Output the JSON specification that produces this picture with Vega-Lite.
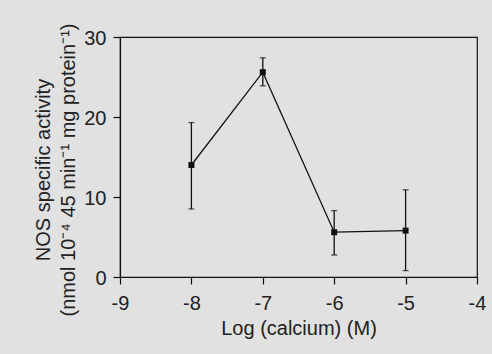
{
  "$schema": "https://vega.github.io/schema/vega-lite/v6.json",
  "width": 357,
  "height": 240,
  "autosize": "none",
  "padding": {"left": 120, "top": 37, "right": 15, "bottom": 77},
  "background": "#e1e1e1",
  "title": {
    "text": ["NOS specific activity", "(nmol 10⁻⁴ 45 min⁻¹ mg protein⁻¹)"],
    "orient": "left",
    "anchor": "middle",
    "font": "Liberation Sans",
    "fontSize": 20,
    "fontWeight": "normal",
    "color": "#222222",
    "lineHeight": 25,
    "offset": 5,
    "dx": -13
  },
  "config": {
    "view": {"stroke": "#111111", "strokeWidth": 1.2},
    "font": "Liberation Sans",
    "axis": {
      "domainColor": "#111111",
      "domainWidth": 1.2,
      "tickColor": "#111111",
      "tickWidth": 1.2,
      "tickSize": 7,
      "grid": false,
      "labelFont": "Liberation Sans",
      "labelFontSize": 20,
      "labelColor": "#222222",
      "titleFont": "Liberation Sans",
      "titleFontSize": 20,
      "titleFontWeight": "normal",
      "titleColor": "#222222"
    }
  },
  "data": {
    "values": [
      {"logCa": -8, "activity": 14.0, "lo": 8.5, "hi": 19.3},
      {"logCa": -7, "activity": 25.6, "lo": 23.9, "hi": 27.4},
      {"logCa": -6, "activity": 5.6, "lo": 2.75, "hi": 8.3},
      {"logCa": -5, "activity": 5.8, "lo": 0.8, "hi": 10.9}
    ]
  },
  "layer": [
    {
      "mark": {"type": "line", "color": "#111111", "strokeWidth": 1.3},
      "encoding": {
        "x": {
          "field": "logCa",
          "type": "quantitative",
          "scale": {"domain": [-9, -4], "nice": false, "zero": false},
          "axis": {
            "title": "Log (calcium) (M)",
            "values": [-9, -8, -7, -6, -5, -4],
            "labelExpr": "replace(datum.label, '−', '-')",
            "format": "d",
            "labelPadding": 9,
            "titlePadding": 5,
            "labelFlush": false
          }
        },
        "y": {
          "field": "activity",
          "type": "quantitative",
          "scale": {"domain": [0, 30], "nice": false},
          "axis": {
            "title": null,
            "values": [0, 10, 20, 30],
            "labelPadding": 7,
            "labelOffset": 1,
            "labelFlush": false
          }
        }
      }
    },
    {
      "mark": {"type": "errorbar", "color": "#111111", "thickness": 1.3, "ticks": {"size": 6, "color": "#111111", "thickness": 1.3}},
      "encoding": {
        "x": {"field": "logCa", "type": "quantitative"},
        "y": {"field": "lo", "type": "quantitative", "title": null},
        "y2": {"field": "hi"}
      }
    },
    {
      "mark": {"type": "square", "color": "#111111", "opacity": 1, "size": 36, "filled": true},
      "encoding": {
        "x": {"field": "logCa", "type": "quantitative"},
        "y": {"field": "activity", "type": "quantitative", "title": null}
      }
    }
  ]
}
